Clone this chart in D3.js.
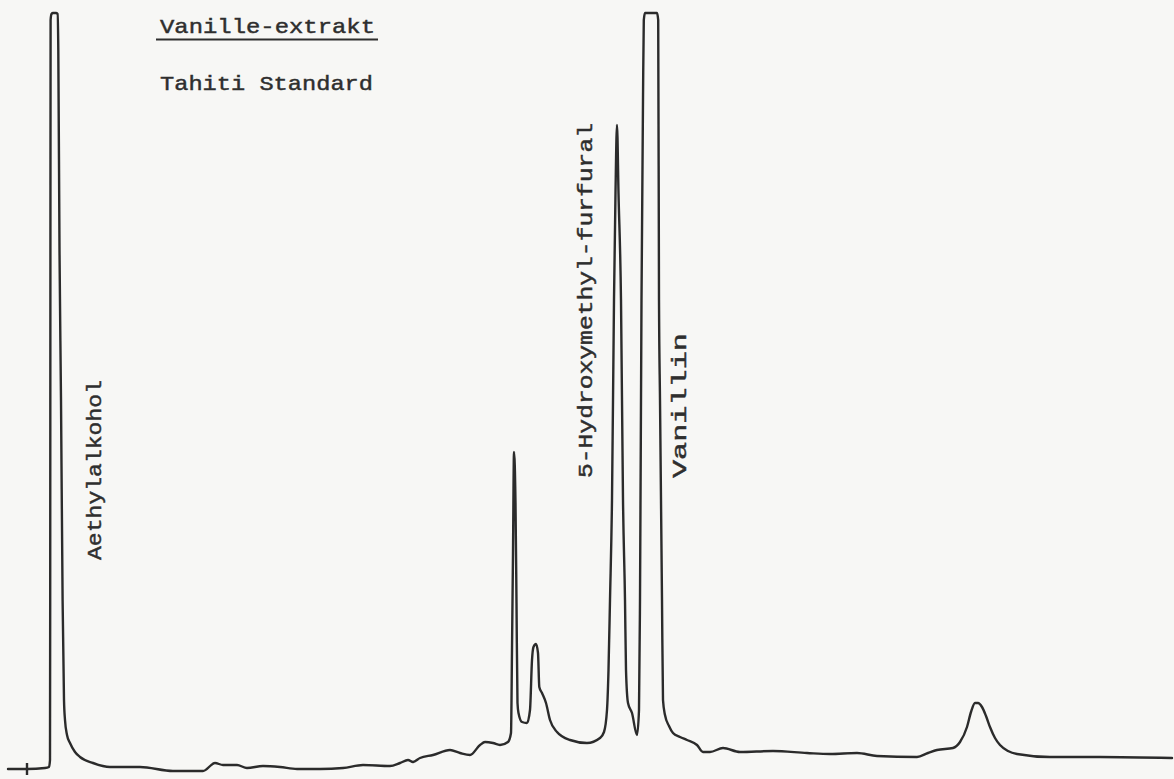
<!DOCTYPE html>
<html>
<head>
<meta charset="utf-8">
<script src="https://cdn.jsdelivr.net/npm/d3@7"></script>
<style>
  html, body { margin: 0; padding: 0; background: #f7f7f5; }
  svg { display: block; }
</style>
</head>
<body>
<svg id="chart" width="1174" height="779"></svg>
<script>
// Retention (chart-paper units, left to right) and detector signal (units above page bottom)
const time = [
  8, 27, 45, 49, 50, 50.2, 50.4, 50.6, 51.5, 53, 56, 57.6, 58.3, 59.5, 61, 62.6, 64, 65, 67, 70, 75, 80, 93,
  110, 140, 173, 203, 215, 223, 237, 247, 263, 280, 297, 320, 343, 363, 390, 400, 408, 413,
  420, 433, 450, 460, 470, 480, 485, 493, 500, 508, 511, 512, 513, 514, 515.5, 516.5, 517.5,
  518.5, 522, 527, 530, 532, 533.5, 536, 538, 539.3, 542, 546, 550, 557, 570, 587, 600,
  604, 607, 608.5, 610, 612, 614, 615.5, 617, 618.5, 621, 623, 625, 626, 628, 632, 637,
  639, 640, 641.5, 643, 643.8, 645, 657, 658.2, 659, 660, 662, 663, 665, 669, 673, 680,
  687, 697, 703, 710, 723, 740, 773, 807, 830, 857, 877, 917, 928, 937, 953, 960, 967,
  971, 975, 978, 982, 986, 990, 995, 1000, 1008, 1017, 1050, 1100, 1172
];
const signal = [
  10, 10, 11, 12, 19, 179, 500, 759, 765, 766, 766, 765, 729, 529, 379, 179, 79, 59, 44, 36, 27, 22, 16,
  12, 12, 8, 8, 16, 14, 14, 11, 13, 12, 10, 10, 11, 14, 13, 16, 19, 17,
  21, 24, 29, 26, 24, 34, 37, 36, 34, 37, 46, 129, 226, 327, 276, 176, 76,
  66, 57, 56, 69, 119, 132, 135, 126, 92, 86, 76, 59, 47, 39, 36, 41,
  47, 69, 109, 179, 279, 479, 586, 654, 586, 479, 279, 179, 109, 76, 66, 44,
  69, 179, 479, 679, 759, 766, 766, 759, 479, 379, 179, 79, 64, 53, 46, 42,
  39, 34, 27, 27, 31, 27, 28, 26, 25, 26, 23, 22, 26, 29, 31, 37, 52,
  67, 76, 76, 72, 63, 52, 41, 34, 28, 25, 22, 22, 21
];
const injectionMark = [27];
const titleLines = ["Vanille-extrakt", "Tahiti Standard"];
const peakNames = ["Aethylalkohol", "5-Hydroxymethyl-furfural", "Vanillin"];
const peakNameTimes = [101, 592, 686];

const W = 1174, H = 779;
const svg = d3.select("#chart");
const x = d3.scaleLinear().domain([0, 1174]).range([0, W]);
const y = d3.scaleLinear().domain([0, 779]).range([H, 0]);

const data = time.map((t, i) => ({ t, s: signal[i] }));
const ink = "#2b2b2b";

svg.append("path")
  .datum(data)
  .attr("fill", "none")
  .attr("stroke", ink)
  .attr("stroke-width", 2.4)
  .attr("stroke-linejoin", "round")
  .attr("stroke-linecap", "round")
  .attr("d", d3.line().x(d => x(d.t)).y(d => y(d.s)).curve(d3.curveMonotoneX));

// injection tick
svg.selectAll("line.inj").data(injectionMark).enter().append("line")
  .attr("x1", d => x(d)).attr("x2", d => x(d))
  .attr("y1", y(16)).attr("y2", y(4))
  .attr("stroke", ink).attr("stroke-width", 2.4);

const font = "'Liberation Mono', 'DejaVu Sans Mono', monospace";
const textInk = "#2e2e2e";

// title
const tl = svg.append("g").attr("font-family", font).attr("fill", textInk)
  .attr("stroke", textInk).attr("stroke-width", 0.45).attr("font-size", 21);
tl.append("text").attr("x", 160).attr("y", 33)
  .attr("textLength", 215).attr("lengthAdjust", "spacingAndGlyphs").text(titleLines[0]);
tl.append("line").attr("x1", 156).attr("x2", 378).attr("y1", 39.5).attr("y2", 39.5)
  .attr("stroke", textInk).attr("stroke-width", 2);
tl.append("text").attr("x", 160).attr("y", 90)
  .attr("textLength", 213).attr("lengthAdjust", "spacingAndGlyphs").text(titleLines[1]);

// peak labels (vertical)
const labelSpans = [[560, 180], [478, 355], [478, 145]];
const lg = svg.append("g").attr("font-family", font).attr("fill", textInk)
  .attr("stroke", textInk).attr("stroke-width", 0.45).attr("font-size", 21);
peakNames.forEach((name, i) => {
  lg.append("text")
    .attr("transform", `translate(${x(peakNameTimes[i])},${labelSpans[i][0]}) rotate(-90)`)
    .attr("textLength", labelSpans[i][1]).attr("lengthAdjust", "spacingAndGlyphs")
    .text(name);
});
</script>
</body>
</html>
